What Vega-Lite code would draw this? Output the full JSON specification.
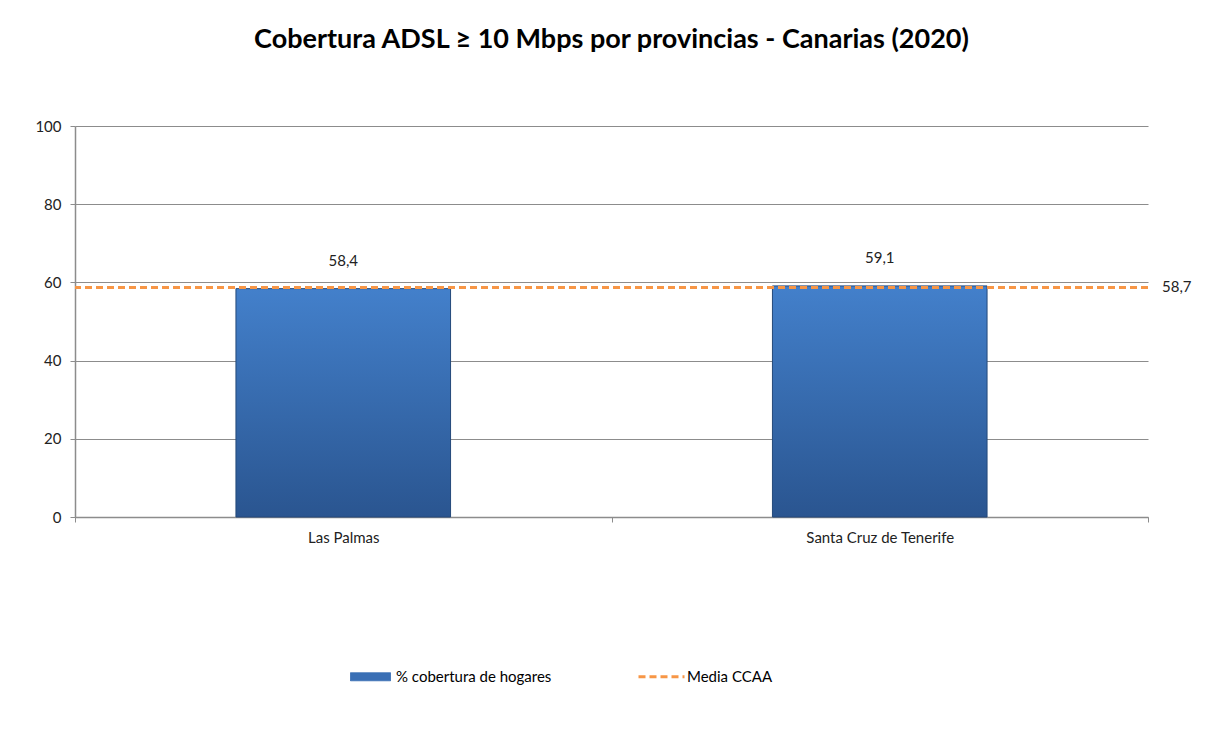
{
  "$schema": "https://vega.github.io/schema/vega-lite/v6.json",
  "width": 1073,
  "height": 391,
  "autosize": "none",
  "padding": {"left": 75, "top": 126, "right": 73, "bottom": 223},
  "background": "white",
  "config": {
    "font": "Lato",
    "view": {"stroke": null},
    "locale": {"number": {"decimal": ",", "thousands": ".", "grouping": [3], "currency": ["", " €"]}}
  },
  "title": {
    "text": "Cobertura ADSL ≥ 10 Mbps por provincias - Canarias (2020)",
    "fontSize": 27,
    "fontWeight": "bold",
    "color": "#000000",
    "anchor": "middle",
    "offset": 65
  },
  "layer": [
    {
      "data": {"values": [
        {"provincia": "Las Palmas", "valor": 58.4, "serie": "% cobertura de hogares"},
        {"provincia": "Santa Cruz de Tenerife", "valor": 59.1, "serie": "% cobertura de hogares"}
      ]},
      "layer": [
        {
          "mark": {
            "type": "bar",
            "width": {"band": 0.4},
            "fill": {"gradient": "linear", "x1": 0, "y1": 0, "x2": 0, "y2": 1,
              "stops": [{"offset": 0, "color": "#4380cb"}, {"offset": 1, "color": "#2a5590"}]},
            "stroke": "#24497a",
            "strokeWidth": 1
          },
          "encoding": {
            "x": {
              "field": "provincia", "type": "nominal", "sort": null,
              "scale": {"paddingInner": 0, "paddingOuter": 0},
              "axis": {
                "title": null, "labelAngle": 0, "labelFontSize": 15, "labelColor": "#222222",
                "domainColor": "#8c8c8c", "tickColor": "#8c8c8c", "tickSize": 5,
                "tickBand": "extent", "labelPadding": 8, "domainWidth": 1.5
              }
            },
            "y": {
              "field": "valor", "type": "quantitative",
              "scale": {"domain": [0, 100]},
              "axis": {
                "title": null, "values": [0, 20, 40, 60, 80, 100], "labelFontSize": 15,
                "labelColor": "#222222", "domainColor": "#8c8c8c", "tickColor": "#8c8c8c",
                "gridColor": "#8c8c8c", "gridOpacity": 1, "grid": true, "tickSize": 5,
                "labelPadding": 9, "domainWidth": 1.5, "gridWidth": 1.2
              }
            },
            "color": {
              "field": "serie", "type": "nominal",
              "scale": {"domain": ["% cobertura de hogares", "Media CCAA"], "range": ["#3a6fb5", "#f79646"]},
              "legend": {
                "title": null,
                "orient": "none",
                "legendX": 288,
                "legendY": 543,
                "direction": "horizontal",
                "labelFontSize": 15,
                "labelColor": "#000000",
                "columnPadding": 80,
                "labelOffset": 18,
                "symbolType": "M-1,-0.2H1V0.2H-1Z",
                "symbolSize": 1600,
                "encode": {
                  "symbols": {
                    "update": {
                      "shape": {"signal": "datum.value === 'Media CCAA' ? 'M-1.15,0H1.15' : 'M-1,-0.2H1V0.2H-1Z'"},
                      "fill": {"signal": "datum.value === 'Media CCAA' ? 'transparent' : '#3a6fb5'"},
                      "stroke": {"signal": "datum.value === 'Media CCAA' ? '#f79646' : '#24497a'"},
                      "strokeWidth": {"signal": "datum.value === 'Media CCAA' ? 3 : 1"},
                      "strokeDash": {"signal": "datum.value === 'Media CCAA' ? [7, 4] : [1, 0]"}
                    }
                  }
                }
              }
            }
          }
        },
        {
          "mark": {"type": "text", "baseline": "bottom", "dy": -20, "fontSize": 15, "color": "#222222"},
          "encoding": {
            "x": {"field": "provincia", "type": "nominal", "sort": null},
            "y": {"field": "valor", "type": "quantitative"},
            "text": {"field": "valor", "type": "quantitative", "format": ".1f"}
          }
        }
      ]
    },
    {
      "data": {"values": [{"media": 58.7, "serie": "Media CCAA"}]},
      "layer": [
        {
          "mark": {"type": "rule", "strokeDash": [7, 4], "strokeWidth": 3},
          "encoding": {
            "y": {"field": "media", "type": "quantitative"},
            "color": {
              "field": "serie", "type": "nominal",
              "legend": {
                "title": null,
                "orient": "none",
                "legendX": 288,
                "legendY": 543,
                "direction": "horizontal",
                "labelFontSize": 15,
                "labelColor": "#000000",
                "columnPadding": 80,
                "labelOffset": 18,
                "symbolType": "M-1,-0.2H1V0.2H-1Z",
                "symbolSize": 1600,
                "encode": {
                  "symbols": {
                    "update": {
                      "shape": {"signal": "datum.value === 'Media CCAA' ? 'M-1.15,0H1.15' : 'M-1,-0.2H1V0.2H-1Z'"},
                      "fill": {"signal": "datum.value === 'Media CCAA' ? 'transparent' : '#3a6fb5'"},
                      "stroke": {"signal": "datum.value === 'Media CCAA' ? '#f79646' : '#24497a'"},
                      "strokeWidth": {"signal": "datum.value === 'Media CCAA' ? 3 : 1"},
                      "strokeDash": {"signal": "datum.value === 'Media CCAA' ? [7, 4] : [1, 0]"}
                    }
                  }
                }
              }
            }
          }
        },
        {
          "mark": {"type": "text", "align": "left", "dx": 14, "fontSize": 15, "color": "#222222"},
          "encoding": {
            "x": {"value": "width"},
            "y": {"field": "media", "type": "quantitative"},
            "text": {"field": "media", "type": "quantitative", "format": ".1f"}
          }
        }
      ]
    }
  ]
}
